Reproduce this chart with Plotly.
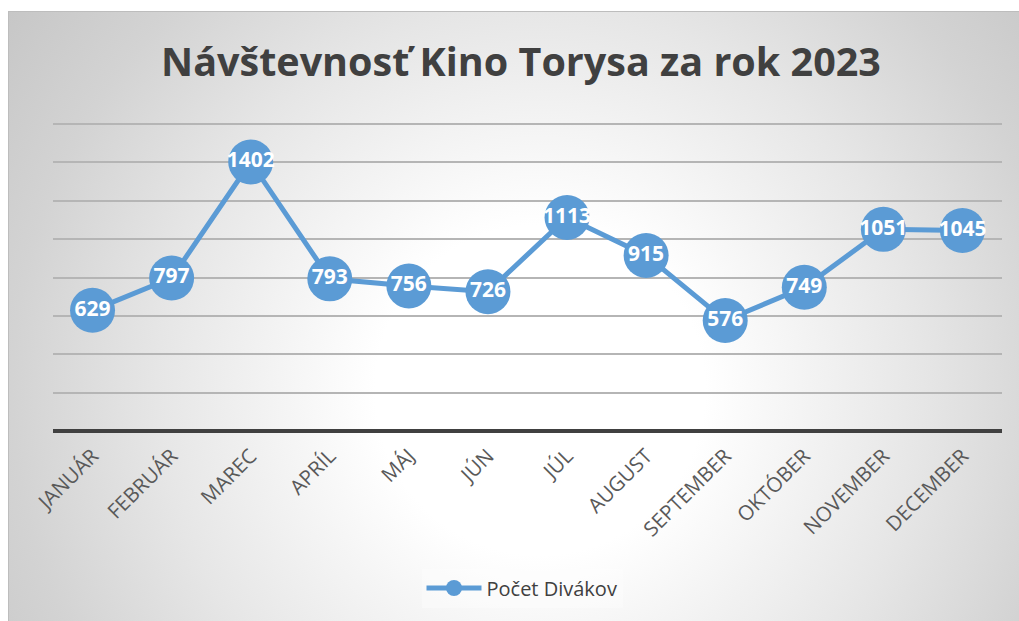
import base64
import plotly.graph_objects as go

months = ["JANUÁR", "FEBRUÁR", "MAREC", "APRÍL", "MÁJ", "JÚN", "JÚL",
          "AUGUST", "SEPTEMBER", "OKTÓBER", "NOVEMBER", "DECEMBER"]
visitors = [629, 797, 1402, 793, 756, 726, 1113, 915, 576, 749, 1051, 1045]
series_name = "Počet Divákov"
title_text = "Návštevnosť Kino Torysa za rok 2023"

W, H = 1019, 621
ML, MR, MT, MB = 53, 17, 120, 190
pw, ph = W - ML - MR, H - MT - MB
Y_TOP = 1600 * ph / (H - MB - 124)   # keeps the 1600 gridline inside the plot area
BX0, BY0, BX1, BY1 = 8, 11, 1019, 621
bw, bh = BX1 - BX0, BY1 - BY0

svg = (f'<svg xmlns="http://www.w3.org/2000/svg" width="{bw}" height="{bh}" viewBox="0 0 {bw} {bh}">'
       f'<defs><radialGradient id="g" cx="{540 - BX0}" cy="{390 - BY0}" r="660" gradientUnits="userSpaceOnUse">'
       '<stop offset="0" stop-color="#ffffff"/><stop offset="0.25" stop-color="#ffffff"/>'
       '<stop offset="0.58" stop-color="#e6e6e6"/><stop offset="0.8" stop-color="#d3d3d3"/>'
       '<stop offset="1" stop-color="#c6c6c6"/></radialGradient></defs>'
       f'<rect x="0" y="0" width="{bw}" height="{bh}" fill="url(#g)"/></svg>')
src = "data:image/svg+xml;base64," + base64.b64encode(svg.encode()).decode()

def px_x(p):
    return (p - ML) / pw

def px_y(p):
    return (H - MB - p) / ph

fig = go.Figure()
fig.add_trace(go.Scatter(
    x=months, y=visitors, name=series_name,
    mode="lines+markers+text",
    line=dict(color="#5B9BD5", width=5),
    marker=dict(color="#5B9BD5", size=45),
    text=[str(v) for v in visitors],
    textposition="middle center",
    textfont=dict(family="Open Sans", size=21, color="white", weight="bold"),
    cliponaxis=False,
))

fig.update_layout(
    width=W, height=H,
    margin=dict(l=ML, r=MR, t=MT, b=MB, autoexpand=False),
    paper_bgcolor="white",
    plot_bgcolor="rgba(0,0,0,0)",
    title=dict(text=title_text, x=521 / W, xanchor="center", y=1 - 62 / H, yanchor="middle",
               xref="container", yref="container",
               font=dict(family="Open Sans", size=39.5, color="#404040", weight="bold")),
    images=[dict(source=src, xref="paper", yref="paper",
                 x=px_x(BX0), y=px_y(BY0), sizex=bw / pw, sizey=bh / ph,
                 xanchor="left", yanchor="top", sizing="stretch", layer="below")],
    shapes=[dict(type="line", xref="paper", yref="paper",
                 x0=px_x(BX0), x1=px_x(BX1), y0=px_y(BY0 + 0.5), y1=px_y(BY0 + 0.5),
                 line=dict(color="#bdbdbd", width=1), layer="below"),
            dict(type="line", xref="paper", yref="paper",
                 x0=px_x(BX0 + 0.5), x1=px_x(BX0 + 0.5), y0=px_y(BY0), y1=px_y(BY1),
                 line=dict(color="#bdbdbd", width=1), layer="below")],
    showlegend=True,
    legend=dict(orientation="h", x=px_x(522), xanchor="center", y=px_y(588), yanchor="middle",
                bgcolor="rgba(255,255,255,0.3)",
                font=dict(family="Open Sans", size=20, color="#404040"),
                itemwidth=55),
    xaxis=dict(range=[-0.5, 11.5], showgrid=False, showline=False, ticks="",
               tickangle=-45, tickfont=dict(family="Open Sans", size=20.5, color="#595959"),
               ticklabelstandoff=8, fixedrange=True),
    yaxis=dict(range=[0, Y_TOP], dtick=200, showticklabels=False, showline=False, ticks="",
               gridcolor="#b5b5b5", gridwidth=1.5,
               zeroline=True, zerolinecolor="#404040", zerolinewidth=3.5),
)

fig.write_html("out.html")
